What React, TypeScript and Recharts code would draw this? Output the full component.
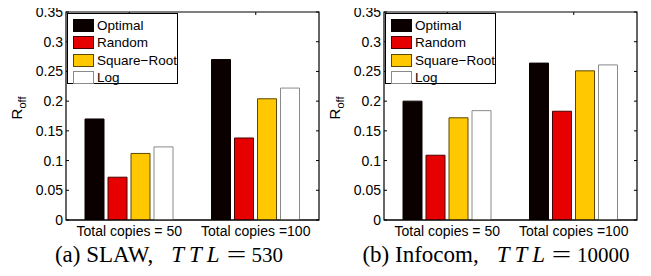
import React from "react";
import { BarChart, Bar, XAxis, YAxis, ReferenceArea } from "recharts";

const groups = ["Total copies = 50", "Total copies =100"];
const seriesNames = ["Optimal", "Random", "Square\u2212Root", "Log"];

const slawOptimal = [0.17, 0.27];
const slawRandom = [0.072, 0.138];
const slawSqrt = [0.112, 0.204];
const slawLog = [0.123, 0.222];

const infocomOptimal = [0.2, 0.264];
const infocomRandom = [0.109, 0.183];
const infocomSqrt = [0.172, 0.251];
const infocomLog = [0.184, 0.261];

const yTicks = [0, 0.05, 0.1, 0.15, 0.2, 0.25, 0.3, 0.35];

const fills = ["#0b0000", "#e60000", "#ffc800", "#ffffff"];
const strokes = ["#0b0000", "#4a0000", "#5c4800", "#8a8a8a"];
const keys = ["optimal", "random", "sqrt", "log"];

// layout
const W = 323;
const H = 276;
const M = { top: 12, right: 4, left: 26, bottom: 36 };
const Y_AXIS_W = 40;
const PLOT_W = W - M.left - M.right - Y_AXIS_W;
const FONT = "'Liberation Sans', Arial, Helvetica, sans-serif";
const SERIF = "'Liberation Serif', 'Times New Roman', serif";

function build(a: number[], b: number[], c: number[], d: number[]) {
  return groups.map((g, i) => ({
    name: g,
    optimal: a[i],
    random: b[i],
    sqrt: c[i],
    log: d[i],
  }));
}

function YTick(props: any) {
  const { x, y, payload } = props;
  const axisX = x + 3;
  return (
    <g>
      <text
        x={x}
        y={y}
        dy={5}
        textAnchor="end"
        fontSize={14}
        fontFamily={FONT}
        fill="#000"
      >
        {String(payload.value)}
      </text>
      <line x1={axisX} x2={axisX + 3} y1={y} y2={y} stroke="#000" />
      <line
        x1={axisX + PLOT_W}
        x2={axisX + PLOT_W - 3}
        y1={y}
        y2={y}
        stroke="#000"
      />
    </g>
  );
}

function XTick(props: any) {
  const { x, y, payload } = props;
  return (
    <g>
      <line x1={x} x2={x} y1={M.top} y2={M.top + 3} stroke="#000" />
      <text
        x={x}
        y={y}
        dy={13}
        textAnchor="middle"
        fontSize={14}
        fontFamily={FONT}
        fill="#000"
      >
        {payload.value}
      </text>
    </g>
  );
}

function LegendBox() {
  return (
    <div
      style={{
        position: "absolute",
        left: 67,
        top: 13,
        border: "1.5px solid #000",
        background: "#fff",
        width: 111,
        height: 71,
        padding: "3px 0 0 5px",
        fontFamily: FONT,
        fontSize: 13.5,
        lineHeight: "17.3px",
        boxSizing: "border-box",
        whiteSpace: "nowrap",
      }}
    >
      {seriesNames.map((n, i) => (
        <div key={n} style={{ display: "flex", alignItems: "center" }}>
          <span
            style={{
              display: "inline-block",
              width: 19,
              height: 11,
              background: fills[i],
              border: `1px solid ${strokes[i]}`,
              marginRight: 3,
            }}
          />
          <span>{n}</span>
        </div>
      ))}
    </div>
  );
}

function Panel({ data }: { data: any[] }) {
  return (
    <BarChart
      width={W}
      height={H}
      data={data}
      margin={M}
      barSize={19}
      barGap={4}
    >
      <XAxis
        dataKey="name"
        tick={<XTick />}
        tickLine={false}
        axisLine={{ stroke: "#000" }}
        height={20}
        tickSize={0}
        tickMargin={3}
        interval={0}
      />
      <YAxis
        domain={[0, 0.35]}
        ticks={yTicks}
        interval={0}
        width={Y_AXIS_W}
        tick={<YTick />}
        tickLine={false}
        axisLine={false}
        tickSize={0}
        tickMargin={3}
        allowDataOverflow
        label={{
          content: (p: any) => {
            const vb = p.viewBox || {};
            const cx = 22;
            const cy = (vb.y ?? M.top) + (vb.height ?? 208) / 2 - 8;
            return (
              <text
                transform={`translate(${cx},${cy}) rotate(-90)`}
                textAnchor="middle"
                fontSize={15}
                fontFamily={FONT}
                fill="#000"
              >
                R
                <tspan fontSize={11} dy={4}>
                  off
                </tspan>
              </text>
            );
          },
        }}
      />
      {keys.map((k, i) => (
        <Bar
          key={k}
          dataKey={k}
          name={seriesNames[i]}
          fill={fills[i]}
          stroke={strokes[i]}
          strokeWidth={1}
          isAnimationActive={false}
        />
      ))}
      <ReferenceArea
        y1={0}
        y2={0.35}
        fill="none"
        stroke="#000"
        strokeWidth={1.2}
        ifOverflow="visible"
      />
    </BarChart>
  );
}

function Caption({ left, label, value }: { left: number; label: string; value: string }) {
  return (
    <div
      style={{
        position: "absolute",
        left,
        top: 243,
        width: 300,
        textAlign: "center",
        fontFamily: SERIF,
        fontSize: 23,
        lineHeight: 1,
        whiteSpace: "nowrap",
      }}
    >
      <span>{label}</span>
      <span style={{ display: "inline-block", width: 18 }} />
      <i style={{ letterSpacing: 5 }}>TTL</i>
      <span style={{ display: "inline-block", transform: "scaleX(1.5)", margin: "0 9px 0 5px" }}>=</span>
      <span style={{ fontSize: 21 }}>{value}</span>
    </div>
  );
}

export default function App() {
  const slaw = build(slawOptimal, slawRandom, slawSqrt, slawLog);
  const infocom = build(infocomOptimal, infocomRandom, infocomSqrt, infocomLog);
  return (
    <div
      style={{
        position: "relative",
        width: 651,
        height: 276,
        margin: -8,
        background: "#fff",
        overflow: "hidden",
      }}
    >
      <div style={{ position: "absolute", left: 0, top: 0 }}>
        <Panel data={slaw} />
        <LegendBox />
      </div>
      <div style={{ position: "absolute", left: 318, top: 0 }}>
        <Panel data={infocom} />
        <LegendBox />
      </div>
      <Caption left={19} label="(a) SLAW," value="530" />
      <Caption left={346} label="(b) Infocom," value="10000" />
    </div>
  );
}
